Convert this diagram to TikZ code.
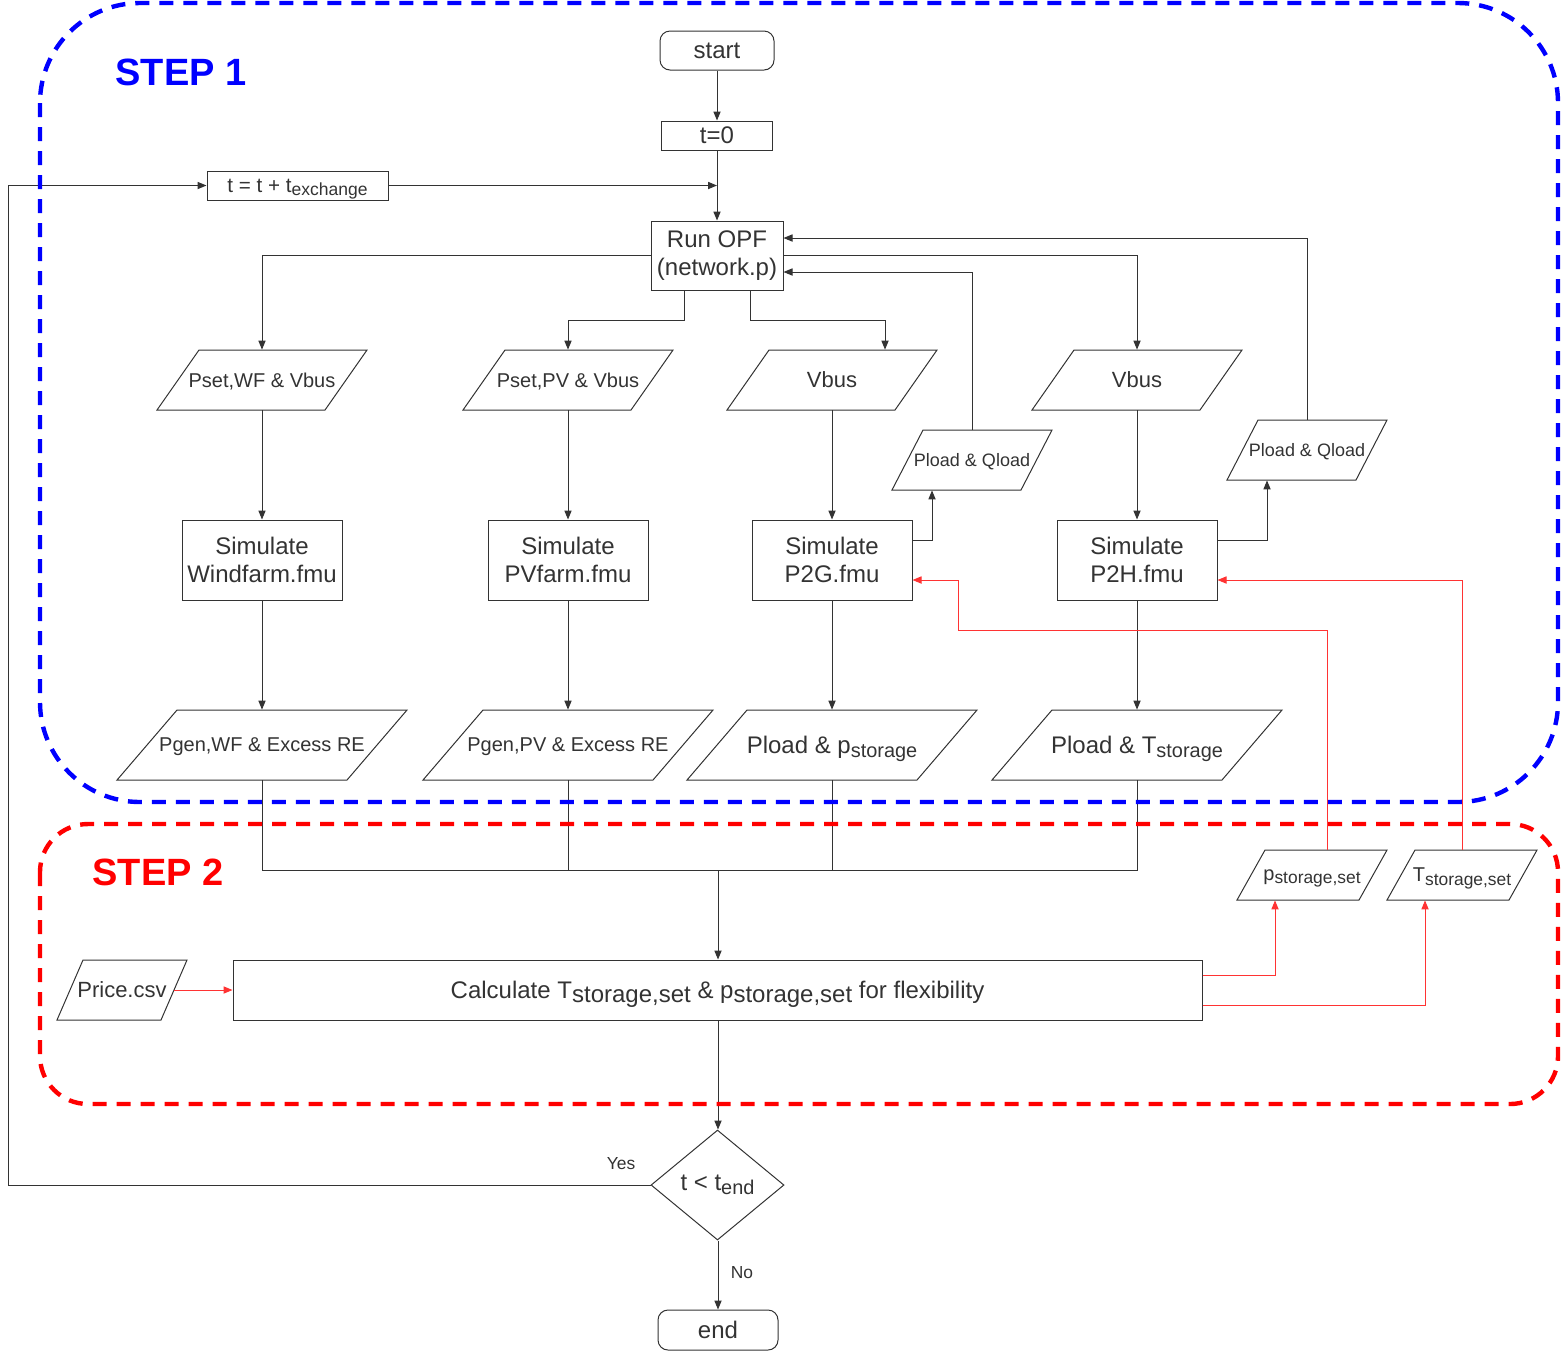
\documentclass[tikz,border=0pt]{standalone}
\usepackage{fontspec}
\setmainfont{Liberation Sans}
\usetikzlibrary{arrows.meta,calc,shapes.geometric}
\definecolor{ink}{RGB}{51,51,51}
\definecolor{rline}{RGB}{255,51,51}
\newdimen\subsz
\makeatletter
\newcommand\sbs[2][0.83]{{\subsz=\f@size pt\subsz=#1\subsz\raisebox{-0.3ex}{\fontsize{\the\subsz}{\the\subsz}\selectfont #2}}}
\makeatother
\tikzset{
  ln/.style={draw=ink, line width=0.5pt},
  arr/.style={ln, -{Triangle[length=4.5pt,width=3.6pt]}},
  rarr/.style={draw=rline, line width=0.5pt, -{Triangle[length=4.5pt,width=3.6pt]}},
  box/.style={rectangle, draw=ink, line width=0.5pt, text=ink, align=center, inner sep=0pt,
    font=\fontsize{12}{14}\selectfont},
  rbox/.style={box, rounded corners=5pt},
  lowtext/.style={text depth=0pt},
  ptxt/.style={rectangle, text=ink, inner sep=0pt, align=center, lowtext},
  lbl/.style={text=ink, inner sep=0pt, font=\fontsize{8.7}{10}\selectfont},
  stepname/.style={inner sep=0pt, anchor=base, font=\fontsize{19}{22}\selectfont\bfseries}
}
% name, cx, cy, total width, height, slant, font size, text
\newcommand\para[8]{%
  \draw[ln] ({#2-#4/2},{#3+#5/2}) -- ({#2-#4/2+#6},{#3-#5/2}) -- ({#2+#4/2},{#3-#5/2}) -- ({#2+#4/2-#6},{#3+#5/2}) -- cycle;
  \node[ptxt, font=\fontsize{#7}{#7}\selectfont, minimum width={(#4-#6)*0.5pt}, minimum height={#5*0.5pt}] (#1) at (#2,#3) {#8};
}
\begin{document}
\begin{tikzpicture}[x=0.5pt,y=-0.5pt]
\useasboundingbox (0,0) rectangle (1561,1351);

% ---- rectangles
\node[rbox, minimum width=57pt, minimum height=19.5pt] (start) at (717,50.5) {start};
\node[box, minimum width=55.5pt, minimum height=14.5pt] (t0) at (717,135.5) {t=0};
\node[box, lowtext, minimum width=90.5pt, minimum height=14.5pt, font=\fontsize{10.3}{12}\selectfont] (texch) at (297.5,185.5) {t = t + t\sbs[0.85]{exchange}};
\node[box, minimum width=66pt, minimum height=34.5pt] (opf) at (717,255.5) {Run OPF\\(network.p)};
\node[box, minimum width=80pt, minimum height=40pt] (simwf) at (262,560) {Simulate\\Windfarm.fmu};
\node[box, minimum width=80pt, minimum height=40pt] (simpv) at (568,560) {Simulate\\PVfarm.fmu};
\node[box, minimum width=80pt, minimum height=40pt] (simp2g) at (832,560) {Simulate\\P2G.fmu};
\node[box, minimum width=80pt, minimum height=40pt] (simp2h) at (1137,560) {Simulate\\P2H.fmu};
\node[box, lowtext, minimum width=484.5pt, minimum height=30pt] (calc) at (717.5,990)
  {Calculate T\sbs[1]{storage,set} \& p\sbs[1]{storage,set} for flexibility};
\node[diamond, draw=ink, line width=0.5pt, text=ink, inner sep=0pt, minimum width=66.5pt, minimum height=55pt,
  font=\fontsize{12}{14}\selectfont] (dia) at (717.5,1185) {t < t\sbs{end}};
\node[rbox, minimum width=60pt, minimum height=20pt] (endn) at (718,1330) {end};

% ---- parallelograms
\para{pwf}{262}{380}{210}{60}{42}{10}{Pset,WF \& Vbus}
\para{ppv}{568}{380}{210}{60}{42}{10}{Pset,PV \& Vbus}
\para{vb1}{832}{380}{210}{60}{42}{11}{Vbus}
\para{vb2}{1137}{380}{210}{60}{42}{11}{Vbus}
\para{pq1}{972}{460}{160}{60}{31}{9}{Pload \& Qload}
\para{pq2}{1307}{450}{160}{60}{31}{9}{Pload \& Qload}
\para{gwf}{262}{745}{290}{70}{60}{10}{Pgen,WF \& Excess RE}
\para{gpv}{568}{745}{290}{70}{60}{10}{Pgen,PV \& Excess RE}
\para{lp}{832}{745}{290}{70}{60}{12}{Pload \& p\sbs{storage}}
\para{lt}{1137}{745}{290}{70}{60}{12}{Pload \& T\sbs{storage}}
\para{ps}{1312}{875}{150}{50}{28}{10}{p\sbs[0.87]{storage,set}}
\para{ts}{1462}{875}{150}{50}{28}{10}{T\sbs[0.87]{storage,set}}
\para{price}{122}{990}{130}{60}{26}{11}{Price.csv}

% ---- helper coordinates
\coordinate (join) at (717,185.5);
\coordinate (lx) at (8,1185);
\coordinate (bus) at (718,870);
\coordinate (rbend) at (958,630);

% ---- black connectors
\draw[arr] (start) -- (t0);
\draw[arr] (t0) -- (opf);
\draw[arr] (texch.east) -- (join);
\draw[arr] (dia.west) -- (lx) |- (texch.west);
\draw[arr] (opf.west) -| (pwf.north);
\draw[arr] ($(opf.south)+(-33,0)$) -- ++(0,30) -| (ppv.north);
\draw[arr] ($(opf.south)+(33,0)$) -- ++(0,30) -| ($(vb1.north)+(53,0)$);
\draw[arr] (opf.east) -| (vb2.north);
\draw[arr] (pwf) -- (simwf);
\draw[arr] (ppv) -- (simpv);
\draw[arr] (vb1) -- (simp2g);
\draw[arr] (vb2) -- (simp2h);
\draw[arr] (simwf) -- (gwf);
\draw[arr] (simpv) -- (gpv);
\draw[arr] (simp2g) -- (lp);
\draw[arr] (simp2h) -- (lt);
\draw[arr] ($(simp2g.east)+(0,-20)$) -| ($(pq1.south)+(-40,0)$);
\draw[arr] ($(simp2h.east)+(0,-20)$) -| ($(pq2.south)+(-40,0)$);
\draw[arr] (pq1.north) |- ($(opf.east)+(0,16.5)$);
\draw[arr] (pq2.north) |- ($(opf.east)+(0,-17.5)$);
\draw[ln] (gwf.south) |- (lt.south |- bus) -- (lt.south);
\draw[ln] (gpv.south) -- (gpv.south |- bus);
\draw[ln] (lp.south) -- (lp.south |- bus);
\draw[arr] (bus) -- (bus |- calc.north);
\draw[arr] (calc.south -| bus) -- (dia.north -| bus);
\draw[arr] (dia.south -| bus) -- (endn.north -| bus);
\node[lbl] (yes) at (621,1164) {Yes};
\node[lbl] (no) at (742,1273) {No};

% ---- red connectors
\draw[rarr] (price.east) -- (calc.west);
\draw[rarr] ($(calc.east)+(0,-15)$) -| ($(ps.south)+(-37,0)$);
\draw[rarr] ($(calc.east)+(0,15)$) -| ($(ts.south)+(-37,0)$);
\draw[rarr] ($(ps.north)+(15,0)$) |- (rbend) |- ($(simp2g.east)+(0,20)$);
\draw[rarr] (ts.north) |- ($(simp2h.east)+(0,20)$);

% ---- step frames
\draw[blue, line width=2.2pt, dash pattern=on 7pt off 5pt, rounded corners=50pt] (40,3) rectangle (1558,802);
\draw[red, line width=2.2pt, dash pattern=on 7pt off 5pt, rounded corners=24pt] (40,824) rectangle (1558,1104);
\node[stepname, text=blue] (s1) at (181,85) {STEP 1};
\node[stepname, text=red] (s2) at (158,885) {STEP 2};
\end{tikzpicture}
\end{document}
